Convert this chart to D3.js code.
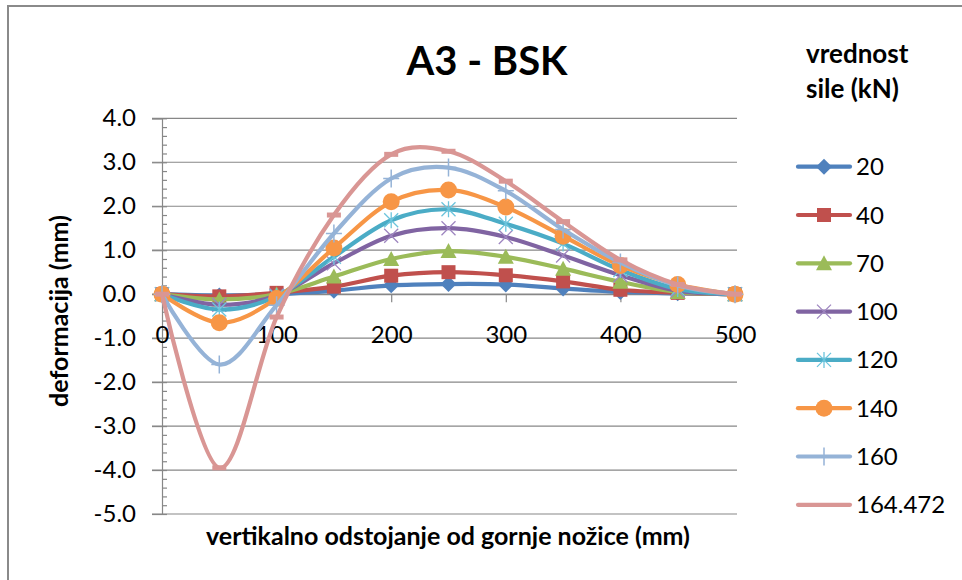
<!DOCTYPE html>
<html><head><meta charset="utf-8">
<script src="https://cdn.jsdelivr.net/npm/d3@7"></script>
<style>body{margin:0;background:#fff;} svg{display:block;font-family:Lato,"Open Sans",sans-serif;}</style>
</head><body>
<svg id="c" width="962" height="580"></svg>
<script>
const xValues = [0, 50, 100, 150, 200, 250, 300, 350, 400, 450, 500];
const seriesNames = ["20", "40", "70", "100", "120", "140", "160", "164.472"];
const s20  = [0, -0.03, 0.00, 0.08, 0.20, 0.23, 0.22, 0.13, 0.05, 0.02, 0];
const s40  = [0, -0.05, 0.03, 0.17, 0.42, 0.50, 0.43, 0.29, 0.10, 0.03, 0];
const s70  = [0, -0.12, 0.00, 0.40, 0.80, 0.98, 0.85, 0.58, 0.28, 0.05, 0];
const s100 = [0, -0.24, -0.03, 0.70, 1.33, 1.50, 1.30, 0.88, 0.43, 0.08, 0];
const s120 = [0, -0.35, -0.05, 0.85, 1.68, 1.93, 1.60, 1.15, 0.55, 0.12, 0];
const s140 = [0, -0.65, -0.10, 1.05, 2.10, 2.37, 1.98, 1.32, 0.65, 0.22, 0];
const s160 = [0, -1.60, -0.25, 1.38, 2.63, 2.88, 2.35, 1.47, 0.72, 0.20, 0];
const s164 = [0, -3.95, -0.52, 1.80, 3.18, 3.25, 2.57, 1.65, 0.78, 0.22, 0];
const seriesValues = [s20, s40, s70, s100, s120, s140, s160, s164];
const colors = ["#4F81BD", "#C0504D", "#9BBB59", "#8064A2", "#4BACC6", "#F79646", "#95B3D7", "#D99694"];
const markers = ["diamond", "square", "triangle", "x", "star", "circle", "plus", "dash"];
const yTickValues = [4, 3, 2, 1, 0, -1, -2, -3, -4, -5];
const xTickValues = [0, 100, 200, 300, 400, 500];
const title = "A3 - BSK";
const xTitle = "vertikalno odstojanje od gornje nožice (mm)";
const yTitle = "deformacija (mm)";
const legendTitle = ["vrednost", "sile (kN)"];

const svg = d3.select("#c");
const gridColor = "#878787";

// outer frame
svg.append("rect").attr("x", 8).attr("y", 6).attr("width", 980).attr("height", 600)
  .attr("fill", "none").attr("stroke", "#8a8a8a").attr("stroke-width", 2);

const x = d3.scaleLinear().domain([0, 500]).range([162, 735]);
const y = d3.scaleLinear().domain([-5, 4]).range([514, 118.3]);

// gridlines
svg.append("g").selectAll("line").data(yTickValues).join("line")
  .attr("x1", 152).attr("x2", 737)
  .attr("y1", d => y(d)).attr("y2", d => y(d))
  .attr("stroke", gridColor).attr("stroke-width", 1.2);

// y axis
const yAxis = svg.append("g").attr("transform", "translate(162,0)")
  .call(d3.axisLeft(y).tickValues(yTickValues).tickSize(10).tickPadding(16).tickFormat(d => d.toFixed(1)));
yAxis.selectAll("path,line").attr("stroke", gridColor).attr("stroke-width", 1.2);
yAxis.selectAll("text").attr("font-size", 24).attr("fill", "#000").attr("font-family", "Lato,sans-serif");
const minor = d3.range(-50, 41, 2).map(d => d / 10);
svg.append("g").attr("transform", "translate(162,0)")
  .call(d3.axisRight(y).tickValues(minor).tickSize(5).tickFormat(""))
  .call(g => g.select("path").remove())
  .selectAll("line").attr("stroke", gridColor).attr("stroke-width", 1.2);

// x axis
const xAxis = svg.append("g").attr("transform", `translate(0,${y(0)})`)
  .call(d3.axisBottom(x).tickValues(xTickValues).tickSize(8).tickPadding(24));
xAxis.selectAll("path,line").attr("stroke", gridColor).attr("stroke-width", 1.2);
xAxis.selectAll("text").attr("font-size", 24).attr("fill", "#000").attr("font-family", "Lato,sans-serif");

// titles
svg.append("text").attr("x", 487).attr("y", 75).attr("text-anchor", "middle")
  .attr("font-size", 40).attr("font-weight", "bold").text(title);
svg.append("text").attr("x", 448).attr("y", 545).attr("text-anchor", "middle")
  .attr("font-size", 25).attr("font-weight", "bold").text(xTitle);
svg.append("text").attr("transform", "translate(68,311) rotate(-90)").attr("text-anchor", "middle")
  .attr("font-size", 25).attr("font-weight", "bold").text(yTitle);

function drawMarker(g, type, color, cx, cy) {
  const s = g.append("g").attr("transform", `translate(${cx},${cy})`);
  if (type === "diamond") s.append("path").attr("d", "M0,-8L8,0L0,8L-8,0Z").attr("fill", color);
  else if (type === "square") s.append("rect").attr("x", -7).attr("y", -7).attr("width", 14).attr("height", 14).attr("fill", color);
  else if (type === "triangle") s.append("path").attr("d", "M0,-8L8,7L-8,7Z").attr("fill", color);
  else if (type === "x") s.append("path").attr("d", "M-7,-7L7,7M-7,7L7,-7").attr("stroke", color).attr("stroke-width", 1.3).attr("fill", "none");
  else if (type === "star") s.append("path").attr("d", "M-7,-7L7,7M-7,7L7,-7M0,-8L0,8").attr("stroke", color).attr("stroke-width", 1.3).attr("fill", "none");
  else if (type === "circle") s.append("circle").attr("r", 8.5).attr("fill", color);
  else if (type === "plus") s.append("path").attr("d", "M-8,0L8,0M0,-9L0,9").attr("stroke", color).attr("stroke-width", 1.5).attr("fill", "none");
  else if (type === "dash") s.append("rect").attr("x", -7).attr("y", -2.5).attr("width", 14).attr("height", 5).attr("fill", color);
}

const markerColors = ["#4F81BD", "#C0504D", "#9BBB59", "#9E86C0", "#6CC4DC", "#F79646", "#95B3D7", "#D99694"];
const line = d3.line().x(d => x(d[0])).y(d => y(d[1])).curve(d3.curveCatmullRom.alpha(0));
const plot = svg.append("g");
seriesValues.forEach((vals, i) => {
  const pts = xValues.map((xv, j) => [xv, vals[j]]);
  const g = plot.append("g");
  g.append("path").attr("d", line(pts)).attr("fill", "none").attr("stroke", colors[i])
    .attr("stroke-width", 4.2).attr("stroke-linejoin", "round").attr("stroke-linecap", "round");
  pts.forEach(p => drawMarker(g, markers[i], markerColors[i], x(p[0]), y(p[1])));
});

// legend
const lg = svg.append("g");
legendTitle.forEach((t, i) => lg.append("text").attr("x", 806).attr("y", 63 + i * 35)
  .attr("font-size", 26).attr("font-weight", "bold").text(t));
seriesNames.forEach((n, i) => {
  const yy = 166.7 + i * 48.3;
  lg.append("line").attr("x1", 798).attr("x2", 850).attr("y1", yy).attr("y2", yy)
    .attr("stroke", colors[i]).attr("stroke-width", 4.2).attr("stroke-linecap", "round");
  if (markers[i] !== "dash") drawMarker(lg, markers[i], markerColors[i], 824, yy);
  lg.append("text").attr("x", 856).attr("y", yy + 8.5).attr("font-size", 24).text(n);
});
</script>
</body></html>
